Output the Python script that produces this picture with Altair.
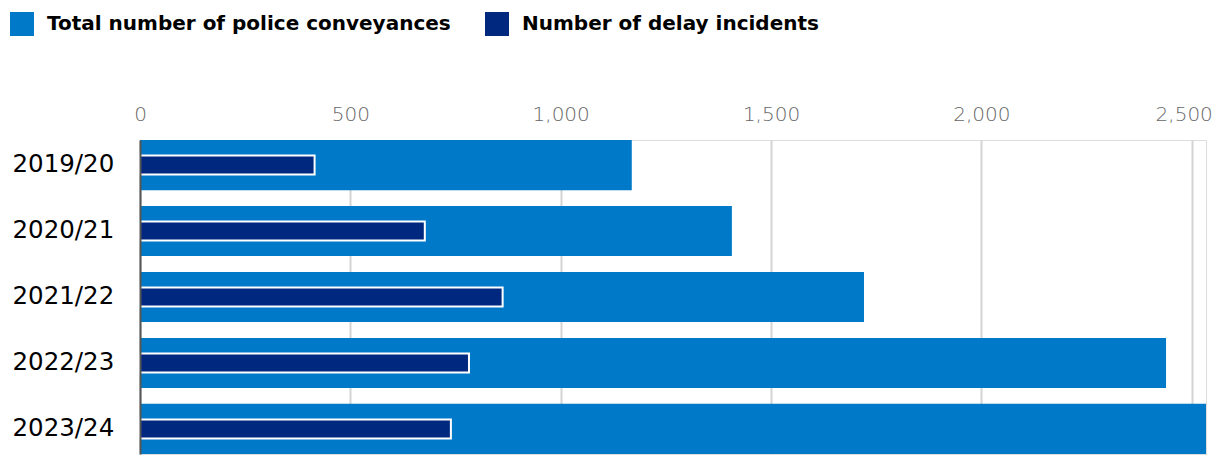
import altair as alt
import pandas as pd

years = ["2019/20", "2020/21", "2021/22", "2022/23", "2023/24"]
total_conveyances = [1169, 1407, 1721, 2439, 2534]
delay_incidents = [415, 677, 862, 782, 739]
series_names = ["Total number of police conveyances", "Number of delay incidents"]
series_colors = ["#0079c8", "#00287f"]
x_ticks = [0, 500, 1000, 1500, 2000, 2500]

rows = []
for y, t, d in zip(years, total_conveyances, delay_incidents):
    rows.append({"year": y, "series": series_names[0], "value": t})
    rows.append({"year": y, "series": series_names[1], "value": d})
df = pd.DataFrame(rows)

FONT = "DejaVu Sans"

y_enc = alt.Y(
    "year:N",
    sort=years,
    scale=alt.Scale(paddingInner=0.24, paddingOuter=0),
    axis=alt.Axis(
        title=None,
        orient="left",
        labelAlign="left",
        labelBaseline="middle",
        labelPadding=128,
        labelFontSize=24.5,
        labelFont=FONT,
        labelFontWeight=400,
        labelColor="#000000",
        ticks=False,
        tickSize=0,
        domain=True,
        domainColor="#555555",
        domainWidth=2,
        grid=False,
        zindex=1,
    ),
)

x_enc = alt.X(
    "value:Q",
    scale=alt.Scale(domain=[0, max(total_conveyances)], nice=False, zero=True),
    axis=alt.Axis(
        title=None,
        orient="top",
        values=x_ticks,
        format=",d",
        labelFontSize=20,
        labelFont=FONT,
        labelFontWeight=300,
        labelColor="#666666",
        labelBaseline="alphabetic",
        labelPadding=20,
        labelFlush=False,
        labelOverlap=False,
        labelOffset=alt.ExprRef("datum.value == 2500 ? -8 : 0"),
        ticks=False,
        tickSize=0,
        domain=False,
        grid=True,
        gridColor="#d4d4d4",
        gridWidth=2,
        zindex=0,
    ),
)

color_enc = alt.Color(
    "series:N",
    scale=alt.Scale(domain=series_names, range=series_colors),
    title=None,
    legend=alt.Legend(
        orient="none",
        legendX=-130,
        legendY=-128,
        direction="horizontal",
        symbolType="square",
        symbolSize=576,
        symbolStrokeWidth=0,
        labelFontSize=20,
        labelFont=FONT,
        labelFontWeight="bold",
        labelColor="#000000",
        labelOffset=13,
        labelLimit=800,
        columnPadding=34,
        padding=0,
    ),
)

base = alt.Chart(df)

total_layer = base.transform_filter(
    alt.datum.series == series_names[0]
).mark_bar().encode(y=y_enc, x=x_enc, color=color_enc)

delay_layer = base.transform_filter(
    alt.datum.series == series_names[1]
).mark_bar(size=19, stroke="white", strokeWidth=2).encode(y=y_enc, x=x_enc, color=color_enc)

chart = alt.layer(total_layer, delay_layer).properties(
    width=1066,
    height=314,
    autosize=alt.AutoSizeParams(type="none"),
    padding={"left": 132, "top": 132, "right": 6, "bottom": 6},
).configure_view(stroke=None).configure(background="white")

chart.save("out.html", embed_options={"renderer": "svg", "actions": False})
